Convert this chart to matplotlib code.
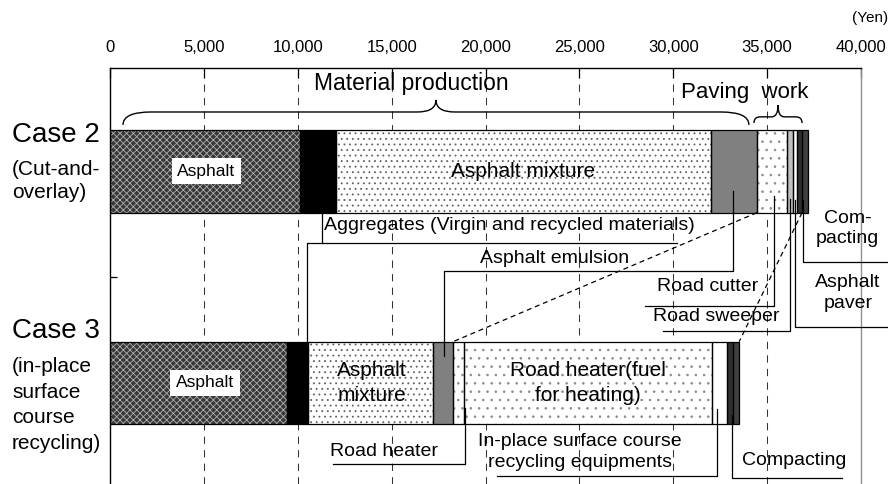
import numpy as np
import matplotlib
matplotlib.use('Agg')
import matplotlib.pyplot as plt
import matplotlib.transforms as mtransforms
from matplotlib.path import Path
from matplotlib.patches import PathPatch

plt.rcParams['font.family'] = ['Liberation Sans', 'DejaVu Sans']
plt.rcParams['hatch.linewidth'] = 0.6

# cost breakdown (Yen)
case2_parts = ['Asphalt', 'Aggregates', 'Asphalt mixture', 'Asphalt emulsion', 'Road cutter',
               'Road sweeper', 'Asphalt paver', 'Compacting 1', 'Compacting 2']
case2_cost = [10100, 1940, 19970, 2450, 1600, 320, 210, 270, 320]

case3_parts = ['Asphalt', 'Aggregates', 'Asphalt mixture', 'Asphalt emulsion', 'Road heater',
               'Road heater (fuel)', 'In-place equipments', 'Compacting 1', 'Compacting 2']
case3_cost = [9430, 1120, 6660, 1060, 590, 13210, 800, 320, 320]

xticks = list(range(0, 40001, 5000))

# fill colour, hatch, hatch colour
style = {
    'Asphalt': ('#383838', 'xxxxx', '#b0b0b0'),
    'Aggregates': ('black', None, 'black'),
    'Asphalt mixture': ('white', '...', '#606060'),
    'Asphalt emulsion': ('#808080', None, 'black'),
    'Road cutter': ('white', '..', '#8a8a8a'),
    'Road sweeper': ('#c0c0c0', None, 'black'),
    'Asphalt paver': ('white', None, 'black'),
    'Compacting 1': ('#303030', None, 'black'),
    'Compacting 2': ('#404040', None, 'black'),
    'Road heater': ('white', '..', '#8a8a8a'),
    'Road heater (fuel)': ('white', '..', '#8a8a8a'),
    'In-place equipments': ('white', None, 'black'),
}

fig = plt.figure(figsize=(8.88, 4.84), dpi=100)
ax = fig.add_axes([110 / 888, 0, 751 / 888, 416 / 484])
bar_h = 0.39

for yi, (parts, costs) in enumerate([(case2_parts, case2_cost), (case3_parts, case3_cost)]):
    lefts = np.concatenate([[0], np.cumsum(costs)[:-1]])
    for p, c, l in zip(parts, costs, lefts):
        fc, hatch, hc = style[p]
        ax.barh(yi, c, left=l, height=bar_h, color=fc, hatch=hatch, edgecolor=hc,
                linewidth=0, zorder=2)
        ax.barh(yi, c, left=l, height=bar_h, fill=False, edgecolor='black',
                linewidth=0.9, zorder=3)

ax.set_xlim(0, 40000)
ax.set_ylim(1.478, -0.489)
ax.set_xticks(xticks)
ax.set_xticklabels([f'{v:,}' for v in xticks], fontsize=12)
ax.xaxis.tick_top()
ax.tick_params(axis='x', direction='in', length=7, width=0.9, pad=9, top=True, bottom=False)
ax.set_yticks([0.5])
ax.set_yticklabels([''])
ax.tick_params(axis='y', direction='in', length=5, width=0.9)
ax.grid(axis='x', color='#333333', linestyle=(0, (7, 6)), linewidth=0.75, zorder=0)
ax.set_axisbelow(True)
ax.spines['bottom'].set_visible(False)
ax.spines['right'].set_color('#909090')
for s in ['top', 'left', 'right']:
    ax.spines[s].set_linewidth(1.0)

fig.text(870 / 888, 1 - 18 / 484, '(Yen)', ha='center', va='center', fontsize=11)

# texts inside the bars
box = dict(boxstyle='square,pad=0.32', fc='white', ec='none')
ax.text(5140, 0, 'Asphalt', ha='center', va='center', fontsize=12.5, bbox=box, zorder=4)
ax.text(5060, 1, 'Asphalt', ha='center', va='center', fontsize=12.5, bbox=box, zorder=4)
ax.text(22000, 0, 'Asphalt mixture', ha='center', va='center', fontsize=15, zorder=4)
ax.text(13950, 1, 'Asphalt\nmixture', ha='center', va='center', fontsize=15,
        linespacing=1.4, zorder=4)
ax.text(25460, 1, 'Road heater(fuel\nfor heating)', ha='center', va='center', fontsize=15,
        linespacing=1.4, zorder=4)

# case labels on the left
trans = mtransforms.blended_transform_factory(fig.transFigure, ax.transData)
x_lab = 12 / 888
ax.text(x_lab, -0.173, 'Case 2', transform=trans, fontsize=20, va='center', ha='left')
ax.text(x_lab, 0.045, '(Cut-and-\noverlay)', transform=trans, fontsize=15, va='center',
        ha='left', linespacing=1.3)
ax.text(x_lab, 0.754, 'Case 3', transform=trans, fontsize=20, va='center', ha='left')
ax.text(x_lab, 1.104, '(in-place\nsurface\ncourse\nrecycling)', transform=trans,
        fontsize=15, va='center', ha='left', linespacing=1.45)


def brace(x0, x1, xm, y_tip, y_line, y_peak, r_tip, r_mid):
    verts = [(x0, y_tip), (x0, y_line), (x0 + r_tip, y_line),
             (xm - r_mid, y_line),
             (xm, y_line), (xm, y_peak),
             (xm, y_line), (xm + r_mid, y_line),
             (x1 - r_tip, y_line),
             (x1, y_line), (x1, y_tip)]
    codes = [Path.MOVETO, Path.CURVE3, Path.CURVE3, Path.LINETO, Path.CURVE3, Path.CURVE3,
             Path.CURVE3, Path.CURVE3, Path.LINETO, Path.CURVE3, Path.CURVE3]
    ax.add_patch(PathPatch(Path(verts, codes), fc='none', ec='black', lw=1.0, zorder=4))


brace(690, 34030, 17360, -0.22, -0.281, -0.338, 1500, 1000)
brace(34300, 36860, 35580, -0.229, -0.258, -0.314, 330, 330)
ax.text(16030, -0.418, 'Material production', ha='center', va='center', fontsize=16.5)
ax.text(33820, -0.371, 'Paving  work', ha='center', va='center', fontsize=16)

# leader lines
line_kw = dict(color='black', lw=0.9, clip_on=False, zorder=5)
ax.plot([11290, 11290], [0.19, 0.338], **line_kw)
ax.plot([30200, 10490, 10490], [0.338, 0.338, 0.805], **line_kw)
ax.plot([33180, 33180, 17790, 17790], [0.092, 0.470, 0.470, 0.872], **line_kw)
ax.plot([35370, 35370, 28500], [0.116, 0.636, 0.636], **line_kw)
ax.plot([36200, 36200, 29450], [0.13, 0.754, 0.754], **line_kw)
ax.plot([36480, 36480, 41440], [0.135, 0.735, 0.735], **line_kw)
ax.plot([36900, 36900, 41440], [0.135, 0.428, 0.428], **line_kw)
ax.plot([18910, 18910, 11880], [1.118, 1.383, 1.383], **line_kw)
ax.plot([32330, 32330, 20610], [1.123, 1.440, 1.440], **line_kw)
ax.plot([33130, 33130, 38990], [1.15, 1.449, 1.449], **line_kw)

# dashed links between the start/end of paving work
mat2 = sum(case2_cost[:4])
mat3 = sum(case3_cost[:4])
ax.plot([mat2, mat3], [bar_h / 2, 1 - bar_h / 2], color='black', lw=0.9,
        linestyle=(0, (4, 3)), zorder=5)
ax.plot([sum(case2_cost[:-1]), sum(case3_cost)], [bar_h / 2, 1 - bar_h / 2], color='black',
        lw=0.9, linestyle=(0, (4, 3)), zorder=5)

lab_kw = dict(ha='center', va='center', fontsize=14, zorder=6)
ax.text(21250, 0.258, 'Aggregates (Virgin and recycled materials)', **lab_kw)
ax.text(23675, 0.414, 'Asphalt emulsion', **lab_kw)
ax.text(31820, 0.546, 'Road cutter', **lab_kw)
ax.text(32300, 0.688, 'Road sweeper', **lab_kw)
ax.text(39310, 0.574, 'Asphalt\npaver', linespacing=1.35, **lab_kw)
ax.text(39280, 0.27, 'Com-\npacting', linespacing=1.27, **lab_kw)
ax.text(14590, 1.326, 'Road heater', **lab_kw)
ax.text(25030, 1.326, 'In-place surface course\nrecycling equipments', linespacing=1.35,
        **lab_kw)
ax.text(36460, 1.369, 'Compacting', **lab_kw)

fig.savefig('out.png', dpi=100)
